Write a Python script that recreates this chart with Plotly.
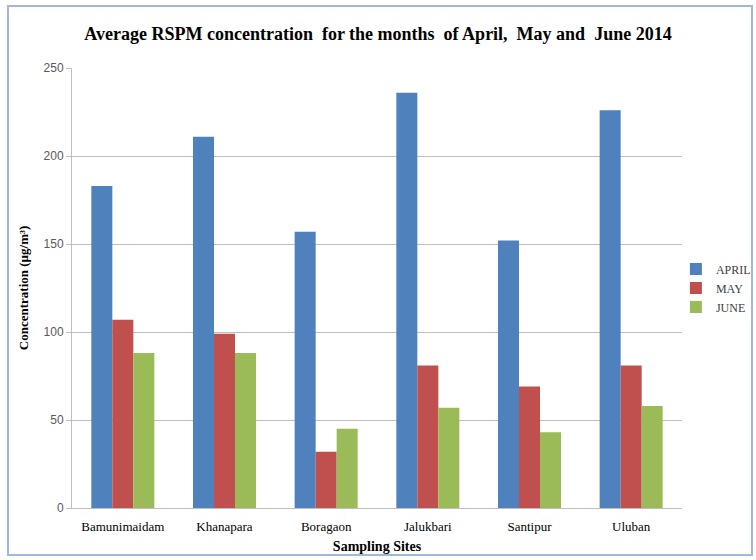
import plotly.graph_objects as go

# Sampling sites and monthly average RSPM concentration (µg/m³)
sites = ["Bamunimaidam", "Khanapara", "Boragaon", "Jalukbari", "Santipur", "Uluban"]
april = [183, 211, 157, 236, 152, 226]
may = [107, 99, 32, 81, 69, 81]
june = [88, 88, 45, 57, 43, 58]

y_ticks = [0, 50, 100, 150, 200, 250]

serif = "Liberation Serif, Times New Roman, serif"

fig = go.Figure()
for name, vals, color in [
    ("APRIL", april, "#4F81BD"),
    ("MAY", may, "#C0504D"),
    ("JUNE", june, "#9BBB59"),
]:
    fig.add_trace(go.Bar(x=sites, y=vals, name=name, marker_color=color,
                         marker_line_width=0))

fig.update_layout(
    width=756, height=560,
    margin=dict(l=72, r=74, t=68, b=52, autoexpand=False),
    paper_bgcolor="white", plot_bgcolor="white",
    barmode="group", bargap=0.38, bargroupgap=0,
    title=dict(
        text="<b>Average RSPM concentration  for the months  of April,  May and  June 2014</b>",
        font=dict(family=serif, size=18, color="black"),
        x=0.5, xanchor="center", y=0.94, yanchor="middle",
    ),
    legend=dict(
        x=0.99, xanchor="left", y=0.5, yanchor="middle",
        font=dict(family=serif, size=12, color="#404040"),
        bgcolor="rgba(0,0,0,0)", itemwidth=30, tracegroupgap=4,
    ),
    showlegend=True,
)

fig.update_xaxes(
    tickfont=dict(family=serif, size=13, color="black"),
    title=dict(text="<b>Sampling Sites</b>", font=dict(family=serif, size=14, color="black"),
               standoff=8),
    showline=True, linecolor="#BFBFBF", linewidth=1,
    ticks="outside", ticklen=6, tickcolor="rgba(0,0,0,0)", showgrid=False,
)
fig.update_yaxes(
    range=[0, 250], tickvals=y_ticks,
    tickfont=dict(family="Liberation Sans, Arial, sans-serif", size=12, color="#595959"),
    title=dict(text="<b>Concentration (µg/m³)</b>", font=dict(family=serif, size=13, color="black"),
               standoff=12),
    showgrid=True, gridcolor="#BFBFBF", gridwidth=1,
    showline=True, linecolor="#BFBFBF", linewidth=1,
    ticks="outside", ticklen=5, tickcolor="#BFBFBF",
    zeroline=False,
)

# light blue chart frame
fig.add_shape(type="rect", xref="paper", yref="paper",
              x0=-64 / 610, x1=(752 - 72) / 610, y0=-47 / 440, y1=(508 - 6) / 440,
              line=dict(color="#9DB9DE", width=2), fillcolor="rgba(0,0,0,0)", layer="below")

fig.write_html("out.html")
